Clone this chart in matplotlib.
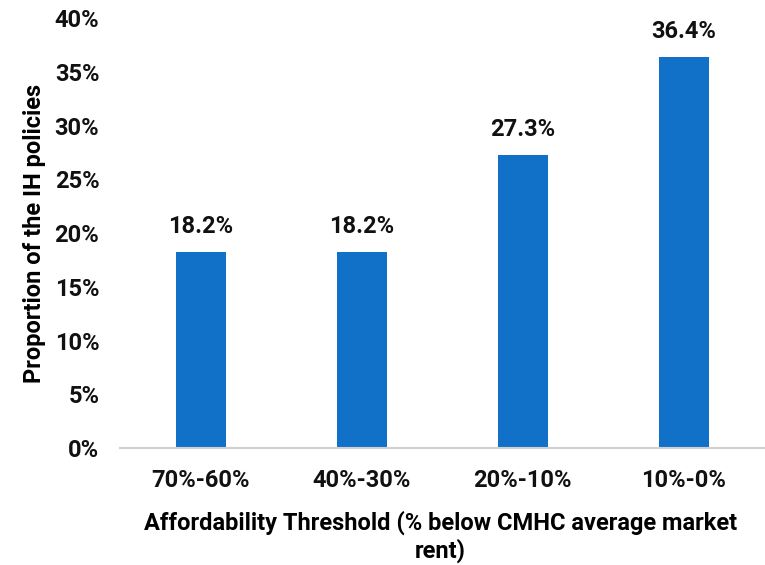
import matplotlib
matplotlib.use("Agg")
import matplotlib.pyplot as plt
from matplotlib.ticker import FuncFormatter

categories = ["70%-60%", "40%-30%", "20%-10%", "10%-0%"]
shares = [18.2, 18.2, 27.3, 36.4]

plt.rcParams["font.family"] = ["Roboto", "DejaVu Sans"]
plt.rcParams["font.weight"] = "bold"

FS = 17

fig = plt.figure(figsize=(7.65, 5.65), dpi=100)
ax = fig.add_axes([0.157, 0.207, 0.842, 0.761])

x = range(len(categories))
bars = ax.bar(x, shares, width=0.31, color="#1170C8", zorder=2)
for b, v in zip(bars, shares):
    ax.text(b.get_x() + b.get_width() / 2, v + 1.3, f"{v:.1f}%",
            ha="center", va="bottom", fontsize=FS, fontweight="bold", color="#111111")

ax.set_xlim(-0.5, len(categories) - 0.5)
ax.set_ylim(0, 40)
ax.set_yticks(range(0, 41, 5))
ax.yaxis.set_major_formatter(FuncFormatter(lambda v, _: f"{v:.0f}%"))
ax.set_xticks(list(x))
ax.set_xticklabels(categories)
ax.tick_params(axis="both", length=0, labelsize=FS, colors="#111111")
ax.tick_params(axis="x", pad=15)
ax.tick_params(axis="y", pad=15)

for s in ("top", "right", "left"):
    ax.spines[s].set_visible(False)
ax.spines["bottom"].set_color("#d0d0d0")
ax.spines["bottom"].set_linewidth(1.5)

ax.set_ylabel("Proportion of the IH policies", fontsize=FS, fontweight="bold", labelpad=6)
fig.text(0.576, 0.004, "Affordability Threshold (% below CMHC average market\nrent)",
         ha="center", va="bottom", fontsize=FS, fontweight="bold", linespacing=1.15)

fig.savefig("out.png", dpi=100)
